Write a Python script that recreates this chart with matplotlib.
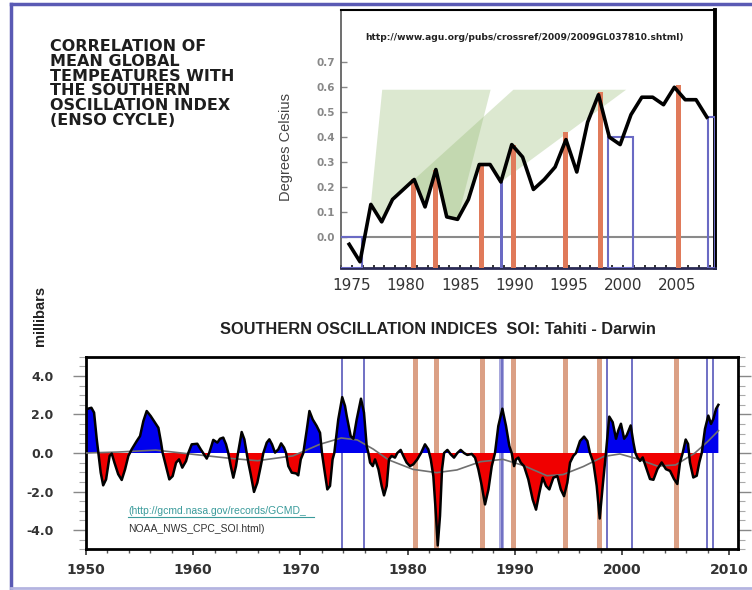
import numpy as np
import matplotlib
matplotlib.use("Agg")
import matplotlib.pyplot as plt
from matplotlib.lines import Line2D
from matplotlib.patches import Rectangle, Polygon
from matplotlib.ticker import MultipleLocator

# --- data: global mean temperature anomaly (deg C), one value per year ---
temp_years = list(range(1975, 2009))
temp_anom = [-0.03, -0.10, 0.13, 0.06, 0.15, 0.19, 0.23, 0.12, 0.27, 0.08,
             0.07, 0.15, 0.29, 0.29, 0.22, 0.37, 0.32, 0.19, 0.23, 0.28,
             0.39, 0.26, 0.46, 0.57, 0.40, 0.37, 0.49, 0.56, 0.56, 0.53,
             0.60, 0.55, 0.55, 0.48]

# El Nino (warm) and La Nina (cool) event markers, shared by both panels
el_nino_years = [1980.7, 1982.7, 1987.0, 1989.9, 1994.7, 1997.9, 2005.1]
el_nino_peaks = [0.23, 0.27, 0.29, 0.37, 0.42, 0.58, 0.61]
la_nina_years = [1973.9, 1975.9, 1988.8, 1998.6, 2000.95, 2007.9, 2008.5]
# cool periods drawn as boxes in the temperature panel: start, end, top
cool_start = [1973.9, 1998.6, 2007.9]
cool_end = [1975.9, 2000.95, 2008.5]
cool_top = [0.0, 0.40, 0.48]
cool_single_year = 1988.8
cool_single_top = 0.22

# green "step" shading: bottom follows the temperature curve between two years
step_from = [1977, 1981]
step_to = [1985, 1989]
step_top_left = [1977.8, 1989.9]
step_top_right = [1987.8, 2000.3]
step_level = 0.59

# --- data: Southern Oscillation Index (Tahiti - Darwin), smoothed ---
soi_years = [
    1950.0, 1950.5, 1950.75, 1951.0, 1951.15, 1951.37, 1951.6, 1951.87, 1952.2, 1952.4,
    1952.65, 1953.0, 1953.33, 1953.64, 1953.95, 1954.26, 1954.73, 1955.04, 1955.35, 1955.66,
    1956.03, 1956.44, 1956.75, 1957.0, 1957.15, 1957.46, 1957.77, 1958.08, 1958.4, 1958.68,
    1958.98, 1959.33, 1959.54, 1959.86, 1960.38, 1960.7, 1961.0, 1961.26, 1961.5, 1961.87,
    1962.25, 1962.5, 1962.8, 1963.06, 1963.27, 1963.5, 1963.74, 1963.99, 1964.18, 1964.52,
    1964.77, 1964.99, 1965.14, 1965.36, 1965.67, 1965.98, 1966.3, 1966.54, 1966.86, 1967.1,
    1967.35, 1967.63, 1967.94, 1968.2, 1968.47, 1968.66, 1968.87, 1969.19, 1969.59, 1969.8,
    1970.03, 1970.27, 1970.6, 1970.84, 1971.15, 1971.52, 1971.83, 1972.01, 1972.23, 1972.51,
    1972.76, 1973.0, 1973.16, 1973.53, 1973.9, 1974.16, 1974.32, 1974.69, 1974.94, 1975.25,
    1975.65, 1975.93, 1976.18, 1976.34, 1976.5, 1976.75, 1976.96, 1977.28, 1977.58, 1977.8,
    1978.05, 1978.26, 1978.51, 1978.82, 1979.04, 1979.35, 1979.6, 1979.91, 1980.22, 1980.53,
    1980.9, 1981.25, 1981.62, 1981.93, 1982.16, 1982.4, 1982.65, 1982.81, 1983.02, 1983.21,
    1983.4, 1983.71, 1984.02, 1984.33, 1984.64, 1984.95, 1985.26, 1985.57, 1985.98, 1986.29,
    1986.6, 1986.92, 1987.22, 1987.54, 1987.85, 1988.15, 1988.46, 1988.84, 1989.18, 1989.49,
    1989.71, 1989.93, 1990.11, 1990.33, 1990.55, 1990.86, 1991.26, 1991.67, 1991.98, 1992.29,
    1992.6, 1992.91, 1993.22, 1993.6, 1993.97, 1994.29, 1994.59, 1994.9, 1995.15, 1995.46,
    1995.71, 1996.08, 1996.46, 1996.77, 1997.01, 1997.33, 1997.64, 1997.92, 1998.2, 1998.5,
    1998.81, 1999.13, 1999.44, 1999.66, 1999.9, 2000.2, 2000.44, 2000.81, 2001.06, 2001.25,
    2001.43, 2001.68, 2001.93, 2002.3, 2002.61, 2002.93, 2003.3, 2003.7, 2004.1, 2004.48,
    2004.85, 2005.16, 2005.41, 2005.66, 2005.94, 2006.16, 2006.34, 2006.65, 2006.97, 2007.21,
    2007.44, 2007.74, 2008.05, 2008.3, 2008.52, 2008.77, 2008.99]
soi_values = [
    2.27, 2.35, 2.10, 0.71, 0.00, -1.02, -1.68, -1.37, -0.15, -0.03,
    -0.50, -1.10, -1.40, -0.85, -0.15, 0.19, 0.62, 0.88, 1.66, 2.18,
    1.92, 1.57, 1.31, 0.54, 0.00, -0.68, -1.37, -1.20, -0.50, -0.33,
    -0.76, -0.42, 0.00, 0.45, 0.48, 0.19, -0.07, -0.29, 0.02, 0.68,
    0.54, 0.74, 0.80, 0.45, 0.00, -0.68, -1.28, -0.68, 0.00, 1.09,
    0.71, 0.00, -0.50, -1.10, -2.02, -1.54, -0.68, 0.00, 0.54, 0.71,
    0.45, 0.02, 0.19, 0.50, 0.28, 0.00, -0.68, -1.02, -1.06, -1.16,
    -0.33, 0.00, 1.23, 2.18, 1.74, 1.40, 1.05, 0.00, -0.85, -1.89,
    -1.71, -0.33, 0.00, 1.74, 2.90, 2.44, 1.92, 0.88, 0.74, 1.74,
    2.82, 2.10, 0.36, 0.00, -0.50, -0.68, -0.33, -0.85, -1.71, -2.20,
    -1.71, -0.33, -0.15, -0.24, 0.00, 0.16, -0.15, -0.50, -0.68, -0.59,
    -0.33, 0.00, 0.45, 0.19, -0.33, -1.20, -3.27, -4.80, -3.27, -0.85,
    0.00, 0.16, -0.07, -0.24, 0.00, 0.16, 0.00, -0.10, -0.05, -0.24,
    -0.85, -1.71, -2.67, -1.89, -0.68, 0.00, 1.40, 2.30, 1.40, 0.36,
    0.00, -0.68, -0.33, -0.24, -0.50, -0.68, -1.37, -2.42, -2.94, -2.07,
    -1.28, -1.71, -1.89, -1.28, -1.20, -1.89, -2.24, -1.54, -0.50, -0.15,
    0.00, 0.62, 0.85, 0.62, 0.00, -0.50, -1.71, -3.40, -1.70, 0.00,
    1.89, 1.60, 0.74, 1.18, 1.52, 0.74, 0.92, 1.43, 0.55, 0.00,
    -0.23, -0.41, -0.23, -0.84, -1.35, -1.39, -0.84, -0.49, -0.84, -0.93,
    -1.35, -1.61, -0.49, 0.00, 0.70, 0.47, -0.49, -1.27, -1.18, -0.49,
    0.00, 1.25, 1.94, 1.51, 1.77, 2.29, 2.50]

# long-period component of the SOI (thin grey curve)
trend_years = [1950.0, 1953.0, 1956.5, 1960.5, 1963.5, 1966.0, 1969.3, 1971.8, 1973.8, 1975.3,
               1976.8, 1978.2, 1980.5, 1982.7, 1984.6, 1986.8, 1988.9, 1990.8, 1993.0, 1994.5,
               1996.4, 1998.3, 1999.8, 2001.4, 2003.3, 2005.0, 2006.8, 2008.0, 2009.0]
trend_values = [0.00, 0.05, 0.15, -0.10, -0.28, -0.40, -0.15, 0.45, 0.78, 0.68,
                0.20, -0.35, -0.85, -1.02, -0.88, -0.45, -0.33, -0.65, -1.18, -1.12,
                -0.70, -0.18, -0.05, -0.30, -0.68, -0.62, 0.00, 0.60, 1.16]

temp_ticks = [0.0, 0.1, 0.2, 0.3, 0.4, 0.5, 0.6, 0.7]
soi_ticks = [4.0, 2.0, 0.0, -2.0, -4.0]
soi_tick_labels = ["4.0", "2.0", "0.0", "-2.0", "-4.0"]

ORANGE_TOP = "#e07a5a"
ORANGE_LOW = "#dba085"
COOL_BLUE = "#6a6ac4"

fig = plt.figure(figsize=(7.52, 5.90), dpi=100)
fig.patch.set_facecolor("white")

# --- frame lines of the original page ---
fig.add_artist(Line2D([0.0146, 0.0146], [0.004, 0.994], transform=fig.transFigure,
                      color="#5a5ab4", lw=2.5))
fig.add_artist(Line2D([0.0146, 1.0], [0.994, 0.994], transform=fig.transFigure,
                      color="#5a5ab4", lw=2.5))
fig.add_artist(Line2D([0.0146, 1.0], [0.004, 0.004], transform=fig.transFigure,
                      color="#b4b4e0", lw=2))

# --- upper panel: temperature ---
ax1 = fig.add_axes([0.4535, 0.5458, 0.4973, 0.4373])
ax1.set_xlim(1974.0, 2008.5)
ax1.set_ylim(-0.125, 0.91)
bottom1 = -0.125

tx = np.array(temp_years) - 0.25
ty = np.array(temp_anom)

for y0, y1, xl, xr in zip(step_from, step_to, step_top_left, step_top_right):
    i0 = temp_years.index(y0)
    i1 = temp_years.index(y1)
    pts = [(tx[i0], ty[i0]), (xl, step_level), (xr, step_level)]
    pts += [(tx[i], ty[i]) for i in range(i1, i0, -1)]
    ax1.add_patch(Polygon(pts, closed=True, facecolor="#8cb466", alpha=0.3,
                          edgecolor="none", zorder=1))

ax1.axhline(0.0, color="#8a8a8a", lw=1.5, zorder=2)

for x, h in zip(el_nino_years, el_nino_peaks):
    ax1.add_patch(Rectangle((x - 0.23, bottom1), 0.46, h - bottom1,
                            facecolor=ORANGE_TOP, edgecolor="none", zorder=3))
for x0, x1, h in zip(cool_start, cool_end, cool_top):
    ax1.add_patch(Rectangle((x0, bottom1), x1 - x0, h - bottom1, facecolor="none",
                            edgecolor=COOL_BLUE, lw=1.5, zorder=3))
ax1.add_patch(Rectangle((cool_single_year - 0.12, bottom1), 0.24, cool_single_top - bottom1,
                        facecolor=COOL_BLUE, edgecolor="none", zorder=3))

ax1.plot(tx, ty, color="black", lw=2.6, zorder=5, solid_joinstyle="round")

ax1.set_yticks(temp_ticks)
ax1.set_yticklabels(["%.1f" % v for v in temp_ticks], fontsize=7.5, fontweight="bold",
                    color="#777777")
ax1.xaxis.set_major_locator(MultipleLocator(5))
ax1.xaxis.set_minor_locator(MultipleLocator(1))
ax1.set_xticks([1975, 1980, 1985, 1990, 1995, 2000, 2005])
ax1.tick_params(axis="x", which="both", direction="in", length=2, width=1.4,
                colors="#333333", labelsize=11, pad=7.5)
ax1.tick_params(axis="y", direction="in", length=4, width=1, colors="#888888", pad=4)
for lab in ax1.get_xticklabels():
    lab.set_color("#333333")
ax1.spines["top"].set_linewidth(1.5)
ax1.spines["right"].set_linewidth(2.8)
ax1.spines["left"].set_color("#555555")
ax1.spines["left"].set_linewidth(1.2)
ax1.spines["bottom"].set_color("#2a2a55")
ax1.spines["bottom"].set_linewidth(2)
ax1.set_ylabel("Degrees Celsius", fontsize=10.5, color="#444444",
               family=["Liberation Sans Narrow", "Liberation Sans", "DejaVu Sans"])
ax1.yaxis.set_label_coords(-0.128, 0.47)
ax1.text(0.49, 0.895, "http://www.agu.org/pubs/crossref/2009/2009GL037810.shtml)",
         transform=ax1.transAxes, ha="center", va="center", fontsize=6.6,
         fontweight="bold", color="#222222")

# --- left heading ---
fig.text(50 / 752, 1 - 39 / 590,
         "CORRELATION OF\nMEAN GLOBAL\nTEMPEATURES WITH\nTHE SOUTHERN\n"
         "OSCILLATION INDEX\n(ENSO CYCLE)",
         ha="left", va="top", fontsize=11.5, fontweight="bold", color="#1e1e1e",
         linespacing=0.98)

# --- lower panel: SOI ---
ax2 = fig.add_axes([0.1144, 0.0690, 0.8674, 0.3264])
ax2.set_xlim(1950, 2010.85)
ax2.set_ylim(-5, 5)

for x in el_nino_years:
    ax2.axvspan(x - 0.23, x + 0.23, color=ORANGE_LOW, lw=0, zorder=1)
for x in la_nina_years:
    if x == cool_single_year:
        ax2.axvspan(x - 0.23, x + 0.23, color="#a8a8dc", lw=0, zorder=1)
    ax2.axvline(x, color="#7070c4", lw=1.4, zorder=1)

sx = np.array(soi_years)
sy = np.array(soi_values)
ax2.fill_between(sx, sy, 0, where=sy >= 0, interpolate=True, color="#0000ee",
                 lw=0, zorder=2)
ax2.fill_between(sx, sy, 0, where=sy <= 0, interpolate=True, color="#f00000",
                 lw=0, zorder=2)
ax2.plot(trend_years, trend_values, color="#707070", lw=1.2, zorder=3)
ax2.plot(sx, sy, color="black", lw=1.8, zorder=4, solid_joinstyle="round")

ax2.set_yticks(soi_ticks)
ax2.set_yticklabels(soi_tick_labels, fontsize=9, fontweight="bold", color="#333333")
ax2.yaxis.set_minor_locator(MultipleLocator(0.5))
ax2.set_xticks([1950, 1960, 1970, 1980, 1990, 2000, 2010])
ax2.set_xticklabels(["1950", "1960", "1970", "1980", "1990", "2000", "2010"],
                    fontsize=10, fontweight="bold", color="#333333")
ax2.xaxis.set_minor_locator(MultipleLocator(2))
ax2.tick_params(axis="y", which="major", direction="out", length=9.5, width=1,
                colors="#888888", pad=14, left=True, right=True)
ax2.tick_params(axis="y", which="minor", direction="out", length=5, width=0.8,
                colors="#aaaaaa", left=True, right=True)
ax2.tick_params(axis="x", which="major", direction="out", length=4.5, width=1.2,
                colors="#333333", pad=5.5)
ax2.tick_params(axis="x", which="minor", direction="out", length=3, width=1,
                colors="#555555")
for lab in ax2.get_yticklabels() + ax2.get_xticklabels():
    lab.set_color("#333333")
for sp in ax2.spines.values():
    sp.set_linewidth(2)
    sp.set_color("black")

ax2.text(0.065, 0.2, "(http://gcmd.nasa.gov/records/GCMD_", transform=ax2.transAxes,
         ha="left", va="center", fontsize=7.5, color="#3a9b9b",
         family=["Liberation Sans", "DejaVu Sans"])
ax2.add_line(Line2D([0.065, 0.35], [0.168, 0.168], transform=ax2.transAxes,
                    color="#3a9b9b", lw=0.8))
ax2.text(0.065, 0.105, "NOAA_NWS_CPC_SOI.html)", transform=ax2.transAxes,
         ha="left", va="center", fontsize=7.5, color="#333333",
         family=["Liberation Sans", "DejaVu Sans"])

fig.text(438 / 752, 1 - 329 / 590, "SOUTHERN OSCILLATION INDICES  SOI: Tahiti - Darwin",
         ha="center", va="center", fontsize=11.8, fontweight="bold", color="#222222",
         family=["Liberation Sans", "DejaVu Sans"])
fig.text(40 / 752, 1 - 316 / 590, "millibars", rotation=90, ha="center", va="center",
         fontsize=10.5, fontweight="bold", color="#222222",
         family=["Liberation Sans", "DejaVu Sans"])

fig.savefig("out.png", dpi=100)
